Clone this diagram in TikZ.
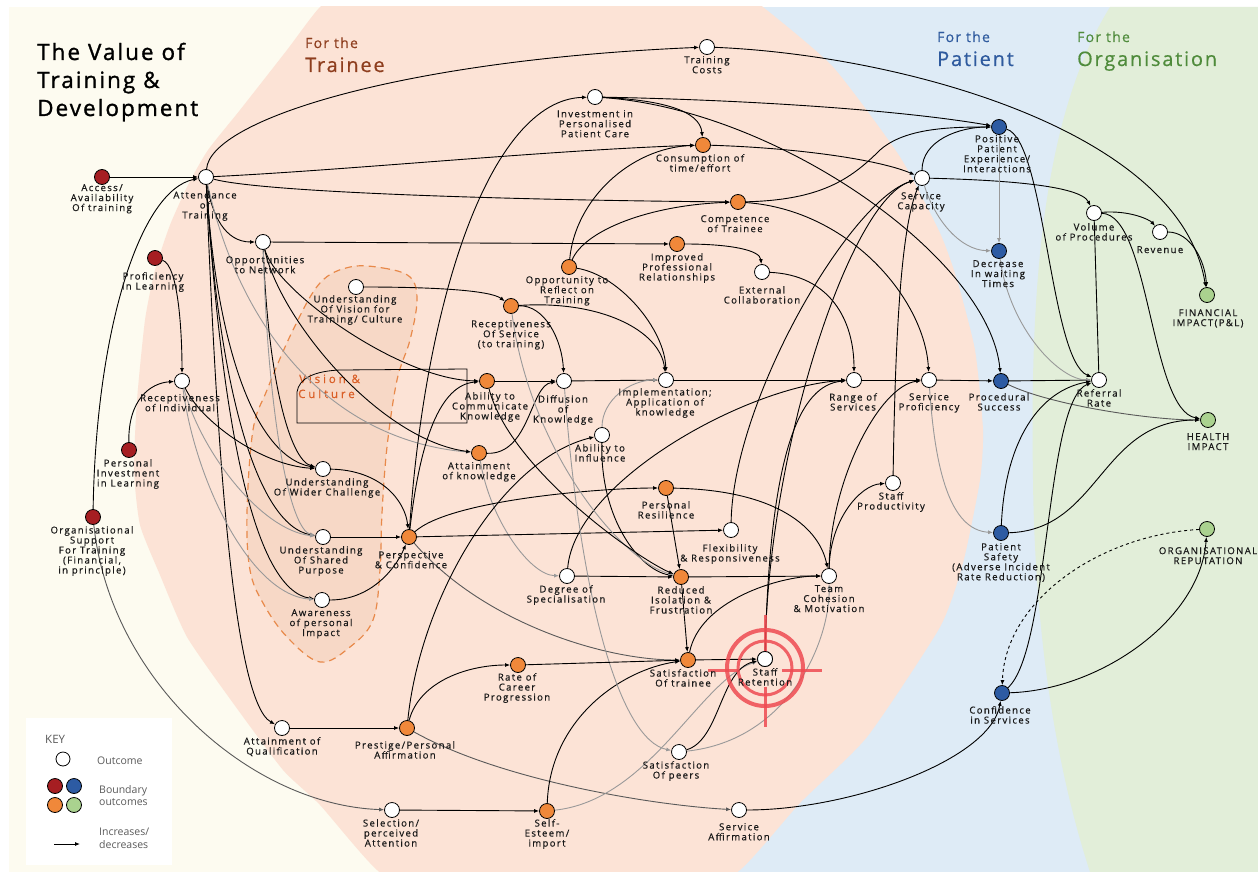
\documentclass[tikz,border=0pt]{standalone}
\usepackage{fontspec}
\setmainfont{Open Sans}
\newfontfamily\lblfamily[LetterSpace=14,FakeBold=0.5]{Open Sans}
\newfontfamily\headfamily[LetterSpace=9,FakeBold=0.5]{Open Sans}
\newfontfamily\titlefamily[LetterSpace=9,FakeBold=1.2]{Open Sans}
\newfontfamily\vcfamily[LetterSpace=25,FakeBold=0.4]{Open Sans}
\usetikzlibrary{arrows.meta}

\definecolor{bgcream}{HTML}{FDFBF0}
\definecolor{bgsalmon}{HTML}{FCE3D6}
\definecolor{bgblob}{HTML}{F7D8C6}
\definecolor{bgblue}{HTML}{DEEBF6}
\definecolor{bggreen}{HTML}{E2EED9}
\definecolor{ndred}{HTML}{A61E22}
\definecolor{ndblue}{HTML}{2D5BA3}
\definecolor{ndorange}{HTML}{F0883A}
\definecolor{ndgreen}{HTML}{AAD28F}
\definecolor{hdbrown}{HTML}{8E3E1E}
\definecolor{hdblue}{HTML}{2E5A9E}
\definecolor{hdgreen}{HTML}{4F8B3B}
\definecolor{blobline}{HTML}{E8894A}
\definecolor{visiontext}{HTML}{DA5E26}
\definecolor{targetred}{HTML}{EF4B52}
\definecolor{keygrey}{HTML}{5A5A5A}

\tikzset{
  nd/.style={circle, draw=black, line width=0.8pt, minimum size=15pt, inner sep=0pt},
  outc/.style={nd, fill=white},
  bred/.style={nd, fill=ndred},
  bblue/.style={nd, fill=ndblue},
  borange/.style={nd, fill=ndorange},
  bgreen/.style={nd, fill=ndgreen},
  lbl/.style={anchor=north, align=center, inner sep=0pt, font=\lblfamily\fontsize{9.6}{10}\selectfont, text=black!90},
  conn/.style={draw=black, line width=0.9pt, -{Latex[length=5pt,width=4pt]}},
  faint/.style={conn, draw=black!40},
  softer/.style={conn, draw=black!65},
  plainln/.style={draw=black, line width=0.9pt},
  keytxt/.style={anchor=base west, inner sep=0pt, font=\fontsize{10.5}{12}\selectfont, text=keygrey, align=left},
}

\begin{document}
\begin{tikzpicture}[x=1pt,y=-1pt]
\useasboundingbox (0,0) rectangle (1258,872);

% ---------- background zones ----------
\fill[white] (0,0) rectangle (1258,872);
\fill[bgcream] (9,7) rectangle (1258,872);
\begin{scope}
\clip (9,7) rectangle (1258,872);
\fill[bgblue] (600,7) rectangle (1258,872);
\fill[bggreen] (1110,7) .. controls (1040,120) and (1030,300) .. (1033,480)
  .. controls (1035,650) and (1060,780) .. (1090,872) -- (1258,872) -- (1258,7) -- cycle;
\fill[bgsalmon] plot[smooth cycle, tension=0.35] coordinates {
  (365,-30) (320,7) (287,50) (240,110) (208,150) (188,185) (170,225) (155,270)
  (145,320) (137,400) (134,470) (140,525) (160,575) (187,637) (233,703) (283,770)
  (320,805) (377,870) (460,930) (560,960) (660,920) (740,870) (800,803) (867,737)
  (940,627) (963,563) (980,480) (983,430) (975,350) (957,280) (940,233) (900,157)
  (833,67) (763,7) (700,-40) (560,-70) (440,-60)};
\end{scope}

% Vision & Culture zone
\filldraw[fill=bgblob, draw=blobline, line width=1.2pt, dash pattern=on 7pt off 5pt]
  plot[smooth cycle, tension=0.6] coordinates {
  (350,267) (383,268) (410,277) (417,300) (410,340) (397,380) (387,447) (382,513)
  (380,570) (373,620) (350,647) (320,662) (287,637) (263,603) (250,570) (247,513)
  (253,430) (267,390) (293,330) (320,283)};
\node[anchor=base west, inner sep=0pt, text=visiontext, font=\vcfamily\fontsize{11.5}{12}\selectfont] (vtxt1) at (299,383) {Vision \&};
\node[anchor=base west, inner sep=0pt, text=visiontext, font=\vcfamily\fontsize{11.5}{12}\selectfont] (vtxt2) at (298,398) {Culture};
\draw[line width=0.8pt] (297,423) -- (297,392) .. controls (299,378) and (315,371) .. (340,370) -- (467,369) -- (467,423) -- cycle;

% ---------- headings ----------
\node[anchor=base west, inner sep=0pt, align=left, font=\titlefamily\fontsize{22.5}{28}\selectfont] (title) at (37,116) {The Value of\\Training \&\\Development};
\node[anchor=base west, inner sep=0pt, text=hdbrown, font=\headfamily\fontsize{14}{14}\selectfont] (h1a) at (305,48) {For the};
\node[anchor=base west, inner sep=0pt, text=hdbrown, font=\headfamily\fontsize{20}{20}\selectfont] (h1b) at (305,72) {Trainee};
\node[anchor=base west, inner sep=0pt, text=hdblue, font=\headfamily\fontsize{14}{14}\selectfont] (h2a) at (937,42) {For the};
\node[anchor=base west, inner sep=0pt, text=hdblue, font=\headfamily\fontsize{20}{20}\selectfont] (h2b) at (937,66) {Patient};
\node[anchor=base west, inner sep=0pt, text=hdgreen, font=\headfamily\fontsize{14}{14}\selectfont] (h3a) at (1077,42) {For the};
\node[anchor=base west, inner sep=0pt, text=hdgreen, font=\headfamily\fontsize{20}{20}\selectfont] (h3b) at (1077,66) {Organisation};

% ---------- nodes ----------
\node[bred] (acc) at (102,177) {};
\node[outc] (att) at (206,177) {};
\node[outc] (tcost) at (707,47) {};
\node[outc] (inv) at (595,97) {};
\node[borange] (cons) at (703,145) {};
\node[borange] (comp) at (738,202) {};
\node[outc] (scap) at (922,178) {};
\node[bblue] (pos) at (999,127) {};
\node[bblue] (dec) at (999,251) {};
\node[outc] (vol) at (1094,213) {};
\node[outc] (rev) at (1160,232) {};
\node[bgreen] (fin) at (1207,295) {};
\node[outc] (opp) at (263,242) {};
\node[bred] (prof) at (155,258) {};
\node[borange] (impr) at (677,244) {};
\node[borange] (refl) at (569,267) {};
\node[outc] (ext) at (762,272) {};
\node[outc] (vis) at (356,287) {};
\node[borange] (recS) at (511,306) {};
\node[outc] (recI) at (182,381) {};
\node[borange] (comm) at (487,381) {};
\node[outc] (diff) at (564,381) {};
\node[outc] (impl) at (666,380) {};
\node[outc] (range) at (854,380) {};
\node[outc] (sprof) at (929,380) {};
\node[bblue] (proc) at (1001,381) {};
\node[outc] (ref) at (1099,380) {};
\node[bgreen] (health) at (1208,420) {};
\node[outc] (infl) at (602,435) {};
\node[borange] (attk) at (479,453) {};
\node[bred] (pinv) at (129,450) {};
\node[outc] (wider) at (323,469) {};
\node[outc] (sprod) at (893,483) {};
\node[borange] (pres) at (666,488) {};
\node[bred] (org) at (93,517) {};
\node[borange] (persp) at (409,537) {};
\node[outc] (flex) at (731,530) {};
\node[outc] (shared) at (323,537) {};
\node[bblue] (psafe) at (1001,533) {};
\node[bgreen] (orep) at (1207,529) {};
\node[outc] (degr) at (567,576) {};
\node[borange] (redu) at (681,577) {};
\node[outc] (team) at (829,576) {};
\node[outc] (aware) at (322,600) {};
\node[borange] (rate) at (518,665) {};
\node[borange] (sattr) at (688,660) {};
\node[outc] (stret) at (765,659) {};
\node[bblue] (conf) at (1002,693) {};
\node[outc] (qual) at (282,728) {};
\node[borange] (prest) at (407,728) {};
\node[outc] (speer) at (679,752) {};
\node[outc] (sel) at (392,810) {};
\node[borange] (self) at (547,811) {};
\node[outc] (saff) at (739,810) {};

% ---------- connectors ----------
\draw[conn] (acc) -- (att);
\draw[conn] (org) .. controls (96,330) and (140,190) .. (att);
\draw[conn] (att) .. controls (210,120) and (400,60) .. (tcost);
\draw[conn] (att) .. controls (350,170) and (550,150) .. (cons);
\draw[conn] (att) .. controls (260,192) and (500,200) .. (comp);
\draw[conn] (att) .. controls (212,215) and (225,242) .. (opp);
\draw[conn] (opp) -- (impr);
\draw[conn] (att) .. controls (215,400) and (230,700) .. (qual);
\draw[conn] (att) .. controls (215,330) and (250,455) .. (wider);
\draw[conn] (att) .. controls (218,380) and (255,525) .. (shared);
\draw[conn] (att) .. controls (222,430) and (255,590) .. (aware);
\draw[faint] (att) .. controls (240,330) and (330,440) .. (attk);
\draw[conn] (opp) .. controls (275,290) and (400,380) .. (comm);
\draw[conn] (opp) .. controls (280,320) and (380,440) .. (attk);
\draw[conn] (opp) .. controls (268,380) and (290,460) .. (wider);
\draw[faint] (opp) .. controls (268,420) and (290,530) .. (shared);
\draw[conn] (prof) .. controls (178,265) and (182,330) .. (recI);
\draw[conn] (pinv) .. controls (128,400) and (150,383) .. (recI);
\draw[conn] (recI) .. controls (200,420) and (260,465) .. (wider);
\draw[faint] (recI) .. controls (200,450) and (260,530) .. (shared);
\draw[faint] (recI) .. controls (195,480) and (250,595) .. (aware);
\draw[conn] (wider) .. controls (380,470) and (405,500) .. (persp);
\draw[conn] (shared) -- (persp);
\draw[conn] (aware) .. controls (370,600) and (395,570) .. (persp);
\draw[conn] (vis) .. controls (430,287) and (490,290) .. (recS);
\draw[conn] (recS) .. controls (545,305) and (562,340) .. (diff);
\draw[conn] (recS) .. controls (600,300) and (660,330) .. (impl);
\draw[conn] (refl) .. controls (620,275) and (665,330) .. (impl);
\draw[conn] (refl) .. controls (575,200) and (630,148) .. (cons);
\draw[conn] (refl) .. controls (585,230) and (650,205) .. (comp);
\draw[conn] (inv) .. controls (660,100) and (700,110) .. (cons);
\draw[conn] (inv) .. controls (750,100) and (900,110) .. (pos);
\draw[conn] (inv) .. controls (780,110) and (990,260) .. (proc);
\draw[conn] (persp) .. controls (425,300) and (490,100) .. (inv);
\draw[conn] (persp) .. controls (420,440) and (440,385) .. (comm);
\draw[conn] (comm) -- (diff);
\draw[conn] (attk) .. controls (530,455) and (530,385) .. (diff);
\draw[conn] (diff) -- (impl);
\draw[conn] (impl) -- (range);
\draw[conn] (range) -- (sprof);
\draw[conn] (sprof) -- (proc);
\draw[conn] (proc) -- (ref);
\draw[softer] (proc) .. controls (1050,405) and (1150,420) .. (health);
\draw[conn] (ext) .. controls (830,275) and (854,320) .. (range);
\draw[conn] (impr) .. controls (730,244) and (760,250) .. (ext);
\draw[conn] (cons) .. controls (800,148) and (880,160) .. (scap);
\draw[conn] (comp) .. controls (820,200) and (850,180) .. (880,150) .. controls (905,128) and (950,127) .. (pos);
\draw[conn] (comp) .. controls (850,210) and (925,300) .. (sprof);
\draw[conn] (scap) .. controls (922,140) and (960,127) .. (pos);
\draw[conn] (scap) .. controls (1000,180) and (1080,185) .. (vol);
\draw[faint] (scap) .. controls (935,220) and (960,250) .. (dec);
\draw[faint] (pos) -- (dec);
\draw[conn] (pos) .. controls (1045,140) and (1050,360) .. (ref);
\draw[faint] (dec) .. controls (1010,330) and (1060,380) .. (ref);
\draw[conn] (vol) .. controls (1130,210) and (1150,220) .. (rev);
\draw[conn] (vol) .. controls (1150,215) and (1150,410) .. (health);
\draw[conn] (rev) .. controls (1190,232) and (1205,260) .. (fin);
\draw[conn] (tcost) .. controls (900,55) and (1180,130) .. (fin);
\draw[plainln] (ref) -- (vol);
\draw[faint] (sprof) .. controls (935,470) and (950,530) .. (psafe);
\draw[conn] (psafe) .. controls (1005,440) and (1040,390) .. (ref);
\draw[conn] (psafe) .. controls (1100,530) and (1100,420) .. (health);
\draw[conn] (conf) .. controls (1050,650) and (1045,400) .. (ref);
\draw[conn] (conf) .. controls (1100,690) and (1200,620) .. (orep);
\draw[conn, dashed] (orep) .. controls (1100,535) and (1005,600) .. (conf);
\draw[conn] (saff) .. controls (850,810) and (990,760) .. (conf);
\draw[conn] (sprod) .. controls (895,350) and (900,230) .. (scap);
\draw[conn] (team) .. controls (830,520) and (860,485) .. (sprod);
\draw[conn] (team) .. controls (830,480) and (880,385) .. (sprof);
\draw[conn] (flex) .. controls (733,400) and (850,200) .. (scap);
\draw[conn] (stret) .. controls (768,450) and (850,200) .. (scap);
\draw[conn] (stret) .. controls (770,450) and (800,385) .. (range);
\draw[conn] (degr) .. controls (575,480) and (750,385) .. (range);
\draw[conn] (degr) -- (redu);
\draw[faint] (attk) .. controls (490,520) and (530,575) .. (degr);
\draw[faint] (infl) .. controls (602,400) and (630,380) .. (impl);
\draw[conn] (infl) .. controls (600,520) and (640,570) .. (redu);
\draw[conn] (pres) -- (redu);
\draw[conn] (pres) .. controls (780,490) and (820,530) .. (team);
\draw[conn] (persp) .. controls (450,500) and (600,488) .. (pres);
\draw[conn] (persp) -- (flex);
\draw[softer] (persp) .. controls (480,620) and (600,660) .. (sattr);
\draw[conn] (redu) -- (sattr);
\draw[conn] (redu) -- (team);
\draw[conn] (sattr) -- (stret);
\draw[conn] (sattr) .. controls (700,600) and (780,576) .. (team);
\draw[conn] (prest) .. controls (420,680) and (470,665) .. (rate);
\draw[conn] (prest) .. controls (420,600) and (500,460) .. (infl);
\draw[softer] (prest) .. controls (500,780) and (650,805) .. (saff);
\draw[conn] (qual) -- (prest);
\draw[softer] (org) .. controls (110,680) and (250,805) .. (sel);
\draw[conn] (sel) -- (self);
\draw[conn] (self) .. controls (550,720) and (620,670) .. (sattr);
\draw[faint] (self) .. controls (650,800) and (700,680) .. (stret);
\draw[faint] (diff) .. controls (580,600) and (620,740) .. (speer);
\draw[conn] (speer) .. controls (720,740) and (720,670) .. (stret);
\draw[faint] (speer) .. controls (790,740) and (830,640) .. (team);
\draw[conn] (rate) -- (sattr);
\draw[faint] (recS) .. controls (530,450) and (620,560) .. (redu);
\draw[conn] (comm) .. controls (510,470) and (640,560) .. (redu);

% ---------- target around staff retention ----------
\begin{scope}[draw=targetred, opacity=0.85]
\draw[line width=4pt] (765,668) circle[radius=38];
\draw[line width=3pt] (765,668) circle[radius=27];
\draw[line width=3pt] (708,670) -- (738,670);
\draw[line width=3pt] (782,670) -- (822,670);
\draw[line width=3pt] (765,615) -- (765,652);
\draw[line width=3pt] (765,687) -- (765,727);
\end{scope}
\node[outc] (stret2) at (stret) {};

% ---------- labels ----------
\node[lbl] (Lacc) at (102,184) {Access/\\Availability\\Of training};
\node[lbl] (Latt) at (205,191) {Attendance\\of\\Training};
\node[lbl] (Ltcost) at (707,56) {Training\\Costs};
\node[lbl] (Linv) at (595,110) {Investment in\\Personalised\\Patient Care};
\node[lbl] (Lcons) at (700,154) {Consumption of\\time/effort};
\node[lbl] (Lcomp) at (735,215) {Competence\\of Trainee};
\node[lbl] (Lscap) at (921,192) {Service\\Capacity};
\node[lbl] (Lpos) at (997,135) {Positive\\Patient\\Experience/\\Interactions};
\node[lbl] (Ldec) at (998,260) {Decrease\\In waiting\\Times};
\node[lbl] (Lvol) at (1094,223) {Volume\\of Procedures};
\node[lbl] (Lrev) at (1160,246) {Revenue};
\node[lbl] (Lfin) at (1208,309) {FINANCIAL\\IMPACT(P\&L)};
\node[lbl] (Lopp) at (265,256) {Opportunities\\to Network};
\node[lbl] (Lprof) at (153,272) {Proficiency\\in Learning};
\node[lbl] (Limpr) at (677,253) {Improved\\Professional\\Relationships};
\node[lbl] (Lrefl) at (567,276) {Opportunity to\\Reflect on\\Training};
\node[lbl] (Lext) at (762,286) {External\\Collaboration};
\node[lbl] (Lvis) at (355,295) {Understanding\\Of Vision for\\Training/ Culture};
\node[lbl] (LrecS) at (511,320) {Receptiveness\\Of Service\\(to training)};
\node[lbl] (LrecI) at (180,394) {Receptiveness\\of Individual};
\node[lbl] (Lcomm) at (490,392) {Ability to\\Communicate\\Knowledge};
\node[lbl] (Ldiff) at (563,395) {Diffusion\\of\\Knowledge};
\node[lbl] (Limpl) at (665,388) {Implementation;\\Application of\\knowledge};
\node[lbl] (Lrange) at (853,393) {Range of\\Services};
\node[lbl] (Lsprof) at (929,393) {Service\\Proficiency};
\node[lbl] (Lproc) at (999,393) {Procedural\\Success};
\node[lbl] (Lref) at (1099,389) {Referral\\Rate};
\node[lbl] (Lhealth) at (1208,433) {HEALTH\\IMPACT};
\node[lbl] (Linfl) at (600,444) {Ability to\\Influence};
\node[lbl] (Lattk) at (479,462) {Attainment\\of knowledge};
\node[lbl] (Lpinv) at (128,459) {Personal\\Investment\\in Learning};
\node[lbl] (Lwider) at (327,478) {Understanding\\Of Wider Challenge};
\node[lbl] (Lsprod) at (891,492) {Staff\\Productivity};
\node[lbl] (Lpres) at (666,501) {Personal\\Resilience};
\node[lbl] (Lorg) at (92,526) {Organisational\\Support\\For Training\\(Financial,\\in principle)};
\node[lbl] (Lpersp) at (411,551) {Perspective\\\& Confidence};
\node[lbl] (Lflex) at (730,544) {Flexibility\\\& Responsiveness};
\node[lbl] (Lshared) at (321,546) {Understanding\\Of Shared\\Purpose};
\node[lbl] (Lpsafe) at (1001,543) {Patient\\Safety\\(Adverse Incident\\Rate Reduction)};
\node[lbl] (Lorep) at (1208,547) {ORGANISATIONAL\\REPUTATION};
\node[lbl] (Ldegr) at (566,585) {Degree of\\Specialisation};
\node[lbl] (Lredu) at (681,586) {Reduced\\Isolation \&\\Frustration};
\node[lbl] (Lteam) at (829,585) {Team\\Cohesion\\\& Motivation};
\node[lbl] (Laware) at (321,609) {Awareness\\of personal\\Impact};
\node[lbl] (Lrate) at (517,673) {Rate of\\Career\\Progression};
\node[lbl] (Lsattr) at (683,669) {Satisfaction\\Of trainee};
\node[lbl] (Lstret) at (765,668) {Staff\\Retention};
\node[lbl] (Lconf) at (1000,706) {Confidence\\in Services};
\node[lbl] (Lqual) at (282,737) {Attainment of\\Qualification};
\node[lbl] (Lprest) at (405,741) {Prestige/Personal\\Affirmation};
\node[lbl] (Lspeer) at (676,761) {Satisfaction\\Of peers};
\node[lbl] (Lsel) at (391,819) {Selection/\\perceived\\Attention};
\node[lbl] (Lself) at (547,819) {Self-\\Esteem/\\import};
\node[lbl] (Lsaff) at (739,823) {Service\\Affirmation};

% ---------- key ----------
\fill[white] (26,718) rectangle (172,865);
\node[keytxt, font=\fontsize{11.5}{12}\selectfont] (keyh) at (45,743) {KEY};
\node[outc, minimum size=14pt] (k0) at (63,759) {};
\node[keytxt] (k0t) at (97,764) {Outcome};
\node[bred, minimum size=15pt] (k1) at (55,786) {};
\node[bblue, minimum size=15pt] (k2) at (74,786) {};
\node[borange, minimum size=15pt] (k3) at (55,805) {};
\node[bgreen, minimum size=15pt] (k4) at (74,805) {};
\node[keytxt] (k1t) at (99,793) {Boundary};
\node[keytxt] (k2t) at (99,805) {outcomes};
\coordinate (ka) at (54,844);
\coordinate (kb) at (80,844);
\draw[conn] (ka) -- (kb);
\node[keytxt] (k3t) at (99,835) {Increases/};
\node[keytxt] (k4t) at (99,848) {decreases};
\end{tikzpicture}
\end{document}
